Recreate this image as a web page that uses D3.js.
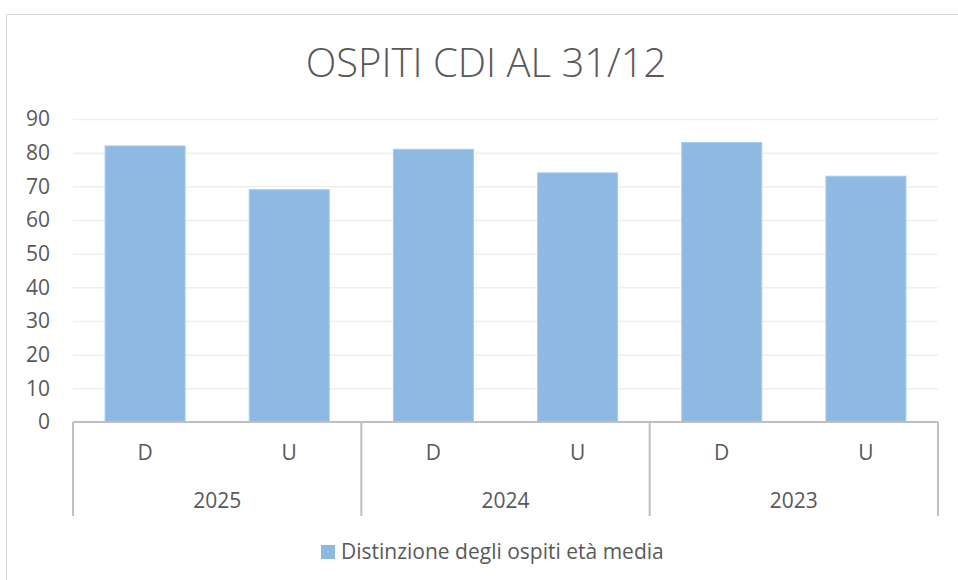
<!DOCTYPE html>
<meta charset="utf-8">
<head>
    <title>Ospiti CDI</title>
    <script src="https://cdn.jsdelivr.net/npm/d3@7"></script>
</head>

<style>
    body { margin: 0; background: #fff; }
    text { font-family: "Open Sans", sans-serif; fill: #595959; }
    .grid line { stroke: #efefef; stroke-width: 1.5; }
    .grid path { display: none; }
    rect.bar { fill: #8db9e2; stroke: #a8cbec; stroke-width: 1; }
</style>

<svg></svg>

<script>
    // data
    var years = ["2025", "2024", "2023"];
    var genders = ["D", "U"];
    var values = {
        "2025": [82, 69],
        "2024": [81, 74],
        "2023": [83, 73]
    };
    var yTicks = [0, 10, 20, 30, 40, 50, 60, 70, 80, 90];
    var seriesName = "Distinzione degli ospiti età media";

    var W = 958, H = 580;
    var plotLeft = 73, plotRight = 938, plotTop = 119, plotBottom = 422;

    var svg = d3.select('svg')
        .attr('width', W)
        .attr('height', H);

    // chart frame
    svg.append('rect')
        .attr('x', 6.5).attr('y', 14.5)
        .attr('width', W + 10).attr('height', H + 10)
        .attr('fill', 'none')
        .attr('stroke', '#d9d9d9');

    svg.append('text')
        .attr('x', 486).attr('y', 77)
        .attr('text-anchor', 'middle')
        .style('font-size', '40px')
        .style('font-weight', 300)
        .text('OSPITI CDI AL 31/12');

    var y = d3.scaleLinear().domain([0, 90]).range([plotBottom, plotTop]);
    var x0 = d3.scaleBand().domain(years).range([plotLeft, plotRight]);
    var x1 = d3.scaleBand().domain(genders).range([0, x0.bandwidth()])
        .paddingInner(0.445).paddingOuter(0.2225);

    // gridlines
    svg.append('g')
        .attr('class', 'grid')
        .attr('transform', 'translate(' + plotLeft + ',0)')
        .call(d3.axisLeft(y).tickValues(yTicks.slice(1)).tickSize(-(plotRight - plotLeft)).tickFormat(''));

    // y labels
    var yAxis = svg.append('g')
        .attr('transform', 'translate(50,0)')
        .call(d3.axisLeft(y).tickValues(yTicks).tickSize(0).tickPadding(0));
    yAxis.select('.domain').remove();
    yAxis.selectAll('text')
        .style('font-size', '21px')
        .style('fill', '#595959')
        .style('font-family', '"Open Sans", sans-serif');

    // bars
    var groups = svg.append('g').selectAll('g').data(years).enter()
        .append('g')
        .attr('transform', function (d) { return 'translate(' + x0(d) + ',0)'; });

    groups.selectAll('rect')
        .data(function (yr) { return genders.map(function (g, i) { return {g: g, v: values[yr][i]}; }); })
        .enter().append('rect')
        .attr('class', 'bar')
        .attr('x', function (d) { return x1(d.g); })
        .attr('y', function (d) { return y(d.v); })
        .attr('width', x1.bandwidth())
        .attr('height', function (d) { return plotBottom - y(d.v); });

    // category axis
    var axisColor = '#bfbfbf';
    svg.append('line')
        .attr('x1', plotLeft).attr('x2', plotRight)
        .attr('y1', plotBottom).attr('y2', plotBottom)
        .attr('stroke', axisColor).attr('stroke-width', 2);

    var seps = years.map(function (d) { return x0(d); }).concat([plotRight]);
    svg.append('g').selectAll('line').data(seps).enter()
        .append('line')
        .attr('x1', function (d) { return d; }).attr('x2', function (d) { return d; })
        .attr('y1', plotBottom).attr('y2', 516)
        .attr('stroke', axisColor).attr('stroke-width', 2);

    groups.selectAll('text.g')
        .data(genders).enter()
        .append('text')
        .attr('class', 'g')
        .attr('x', function (d) { return x1(d) + x1.bandwidth() / 2; })
        .attr('y', 460)
        .attr('text-anchor', 'middle')
        .style('font-size', '21px')
        .text(function (d) { return d; });

    groups.append('text')
        .attr('x', x0.bandwidth() / 2)
        .attr('y', 508)
        .attr('text-anchor', 'middle')
        .style('font-size', '21px')
        .text(function (d) { return d; });

    // legend
    svg.append('rect')
        .attr('x', 321).attr('y', 545)
        .attr('width', 14).attr('height', 14)
        .attr('fill', '#8db9e2');
    svg.append('text')
        .attr('x', 341).attr('y', 559)
        .style('font-size', '21px')
        .text(seriesName);
</script>
